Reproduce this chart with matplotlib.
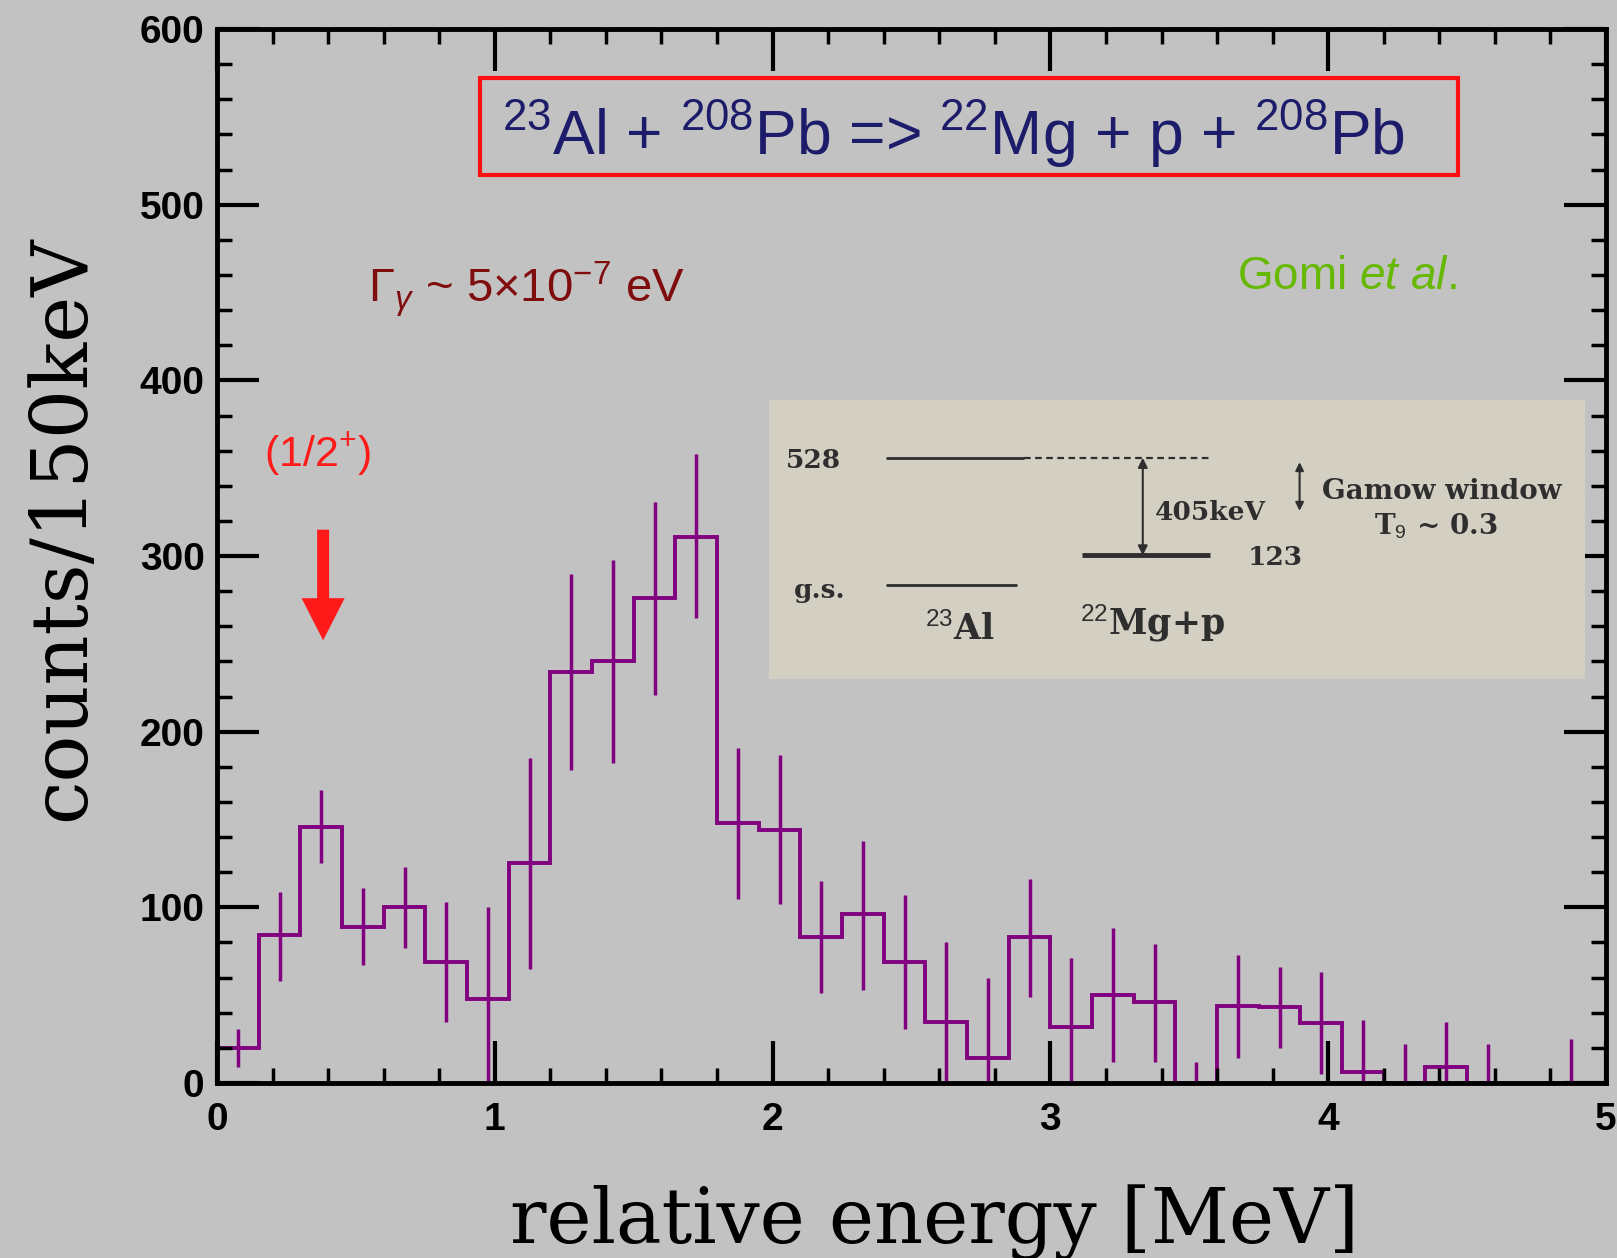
import matplotlib
matplotlib.use("Agg")
import matplotlib.pyplot as plt
from matplotlib.patches import Rectangle
import numpy as np

# relative energy spectrum, 150 keV bins
bin_width = 0.15
counts = [20, 84, 146, 89, 100, 69, 48, 125, 234, 240, 276, 311,
          148, 144, 83, 96, 69, 35, 14, 83, 32, 50, 46, 0,
          44, 43, 34, 6, 0, 9, 0, 0, 0]
err_hi = [31, 109, 167, 111, 123, 103, 100, 185, 290, 298, 331, 358,
          191, 187, 115, 138, 107, 80, 60, 116, 71, 88, 79, 12,
          73, 66, 63, 36, 22, 35, 22, 0, 25]
err_lo = [9, 58, 125, 67, 77, 35, 0, 65, 178, 182, 221, 265,
          105, 102, 51, 53, 31, 0, 0, 49, 0, 12, 12, 0,
          14, 20, 5, 0, 0, 0, 0, 0, 0]

# level scheme of the inset (keV)
gs_level = 0
threshold = 123
resonance = 528

edges = np.arange(len(counts) + 1) * bin_width
centers = edges[:-1] + bin_width / 2

plt.rcParams['mathtext.fontset'] = 'custom'
plt.rcParams['mathtext.rm'] = 'Liberation Sans'
plt.rcParams['mathtext.it'] = 'Liberation Sans:italic'
plt.rcParams['mathtext.bf'] = 'Liberation Sans:bold'

bg = '#c2c2c2'
purple = '#800080'

fig = plt.figure(figsize=(16.17, 12.58), dpi=100, facecolor=bg)
ax = fig.add_axes([0.1342, 0.1391, 0.859, 0.8378])
ax.set_facecolor(bg)

ax.stairs(counts, edges, baseline=0, color=purple, lw=2.8)
has_err = np.array(err_hi) > 0
ax.vlines(centers[has_err], np.array(err_lo)[has_err], np.array(err_hi)[has_err],
          color=purple, lw=2.5)

ax.set_xlim(0, 5)
ax.set_ylim(0, 600)
ax.set_xticks([0, 1, 2, 3, 4, 5])
ax.set_yticks([0, 100, 200, 300, 400, 500, 600])
ax.set_xticks(np.arange(0, 5.01, 0.2), minor=True)
ax.set_yticks(np.arange(0, 601, 20), minor=True)
ax.tick_params(which='both', direction='in', top=True, right=True, colors='black')
ax.tick_params(which='major', length=30, width=3)
ax.tick_params(which='minor', length=11, width=2.5)
ax.tick_params(axis='x', pad=14)
ax.tick_params(axis='y', pad=9)
for lab in ax.get_xticklabels() + ax.get_yticklabels():
    lab.set_family('Liberation Sans')
    lab.set_fontweight('bold')
    lab.set_fontsize(28)
for sp in ax.spines.values():
    sp.set_linewidth(3.5)

fig.text(62 / 1617, 1 - 528 / 1258, 'counts/150keV', rotation=90, family='DejaVu Serif',
         fontsize=56, ha='center', va='center')
fig.text(934 / 1617, 1 - 1222 / 1258, 'relative energy [MeV]', family='DejaVu Serif',
         fontsize=55, ha='center', va='center')

# reaction box
ax.add_patch(Rectangle((0.947, 517), 3.519, 55, fill=False, edgecolor='#ff1010', lw=3))
ax.text(2.65, 540, r'$^{23}$Al + $^{208}$Pb => $^{22}$Mg + p + $^{208}$Pb',
        family='Liberation Sans', fontsize=45, color='#1c1c6b', ha='center', va='center')

ax.text(0.544, 452, r'$\Gamma_{\gamma}$ ~ 5$\times$10$^{-7}$ eV', family='Liberation Sans',
        fontsize=34, color='#7f0d0d', ha='left', va='center')
ax.text(3.672, 459, r'Gomi $\mathit{et\ al.}$', family='Liberation Sans',
        fontsize=33, color='#66b800', ha='left', va='center')
ax.text(0.363, 358, r'(1/2$^{+}$)', family='Liberation Sans',
        fontsize=31, color='#ff1a1a', ha='center', va='center')
ax.arrow(0.382, 315, 0, -63, width=0.043, head_width=0.155, head_length=24,
         length_includes_head=True, color='#ff1a1a', lw=0)

# inset level scheme
ins = ax.inset_axes([1.986, 230, 2.94, 158.7], transform=ax.transData)
ins.set_facecolor('#d3cfc3')
ins.set_xlim(0, 1)
ins.set_ylim(-390, 767)
ins.set_xticks([])
ins.set_yticks([])
for sp in ins.spines.values():
    sp.set_visible(False)
ink = '#2e2e2e'
fkw = dict(family='DejaVu Serif', fontweight='bold', color=ink)
ins.hlines(resonance, 0.143, 0.313, color=ink, lw=2)
ins.hlines(resonance, 0.313, 0.539, color=ink, lw=1.6, linestyles=(0, (3, 2)))
ins.hlines(gs_level, 0.143, 0.304, color=ink, lw=2)
ins.hlines(threshold, 0.383, 0.540, color=ink, lw=3.5)
ins.annotate('', xy=(0.458, resonance), xytext=(0.458, threshold),
             arrowprops=dict(arrowstyle='<|-|>', color=ink, lw=1.5, mutation_scale=14,
                             shrinkA=0, shrinkB=0))
ins.annotate('', xy=(0.650, 510), xytext=(0.650, 308),
             arrowprops=dict(arrowstyle='<|-|>', color=ink, lw=1.5, mutation_scale=12,
                             shrinkA=0, shrinkB=0))
ins.text(0.021, resonance - 10, str(resonance), fontsize=19, ha='left', va='center', **fkw)
ins.text(0.063, gs_level - 21, 'g.s.', fontsize=19, ha='center', va='center', **fkw)
ins.text(0.620, threshold - 7, str(threshold), fontsize=19, ha='center', va='center', **fkw)
ins.text(0.473, 300, '%dkeV' % (resonance - threshold), fontsize=19, ha='left', va='center', **fkw)
ins.text(0.234, -184, r'$^{23}$Al', fontsize=25, ha='center', va='center', **fkw)
ins.text(0.470, -158, r'$^{22}$Mg+p', fontsize=25, ha='center', va='center', **fkw)
ins.text(0.824, 390, 'Gamow window', fontsize=20, ha='center', va='center', **fkw)
ins.text(0.817, 244, r'T$_9$ ~ 0.3', fontsize=20, ha='center', va='center', **fkw)

fig.savefig('out.png', dpi=100, facecolor=bg)
